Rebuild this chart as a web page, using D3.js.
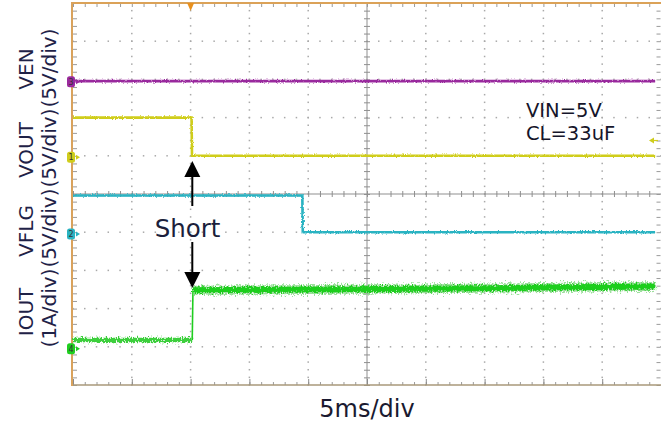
<!DOCTYPE html>
<html><head><meta charset="utf-8">
<script src="https://cdn.jsdelivr.net/npm/d3@7"></script>
<style>html,body{margin:0;padding:0;background:#fff;} svg{display:block;font-family:"DejaVu Sans",Verdana,sans-serif;}</style>
</head><body><svg id="c" width="661" height="422"></svg>
<script>
// ---------------- data ----------------
const timeDomainMs = [0, 50];          // 10 div x 5 ms/div
const divDomain = [0, 10];             // 10 vertical divisions
const minorTimeTicks = d3.range(0, 50.001, 1);     // 1/5 div
const majorTimeTicks = d3.range(0, 50.001, 5);
const minorDivTicks = d3.range(0, 10.001, 0.2);
const majorDivTicks = d3.range(0, 10.001, 1);

const channelNames  = ["VEN", "VOUT", "VFLG", "IOUT"];
const channelScales = ["(5V/div)", "(5V/div)", "(5V/div)", "(1A/div)"];
const channelUnitsPerDiv = [5, 5, 5, 1];
const channelGroundDiv   = [7.94, 5.96, 3.95, 0.95];
const channelMarkerIds   = ["3", "1", "2", "4"];

const venTimes   = [0, 49.5];
const venValues  = [0.08, 0.08];
const voutTimes  = [0, 10.08, 10.12, 49.5];
const voutValues = [5.2, 5.2, 0.2, 0.2];
const vflgTimes  = [0, 19.5, 19.54, 49.5];
const vflgValues = [5.05, 5.05, 0.25, 0.25];
const ioutTimes  = [0, 10.14, 10.2, 20, 30, 40, 49.5];
const ioutValues = [0.23, 0.23, 1.53, 1.55, 1.57, 1.6, 1.63];

const xLabel = "5ms/div";
const noteLines = ["VIN=5V", "CL=33uF"];
const shortLabel = "Short";
const triggerTimeMs = 10.0;
const triggerLevelDiv = 6.4;

// ---------------- layout ----------------
const svg = d3.select("#c");
const plot = {left: 73, right: 661, top: 3, bottom: 385};
const x = d3.scaleLinear().domain(timeDomainMs).range([plot.left, plot.right]);
const y = d3.scaleLinear().domain(divDomain).range([plot.bottom, plot.top]);
const colors = ["#9a2a9e", "#cfcd1c", "#2ab3c2", "#1fce1f"];
const gridGray = "#a9a9a9";

// filters for trace noise texture
const defs = svg.append("defs");
function jitter(id, scale, fx, fy) {
  const f = defs.append("filter").attr("id", id).attr("filterUnits", "userSpaceOnUse")
    .attr("x", 0).attr("y", 0).attr("width", 661).attr("height", 422);
  f.append("feTurbulence").attr("type", "fractalNoise").attr("baseFrequency", fx + " " + fy)
    .attr("numOctaves", 2).attr("seed", 4).attr("result", "n");
  f.append("feDisplacementMap").attr("in", "SourceGraphic").attr("in2", "n")
    .attr("scale", scale).attr("xChannelSelector", "R").attr("yChannelSelector", "G");
}
jitter("j1", 3, 0.9, 0.6);
jitter("j2", 7, 0.8, 0.5);
jitter("j3", 11, 0.7, 0.5);

// dotted grid
const gridG = svg.append("g");
const vLines = majorTimeTicks.filter(t => t > 0 && t < 50 && t !== 25);
const hLines = majorDivTicks.filter(d => d > 0 && d < 10 && d !== 5);
const vDots = [];
vLines.forEach(t => minorDivTicks.forEach(d => vDots.push([t, d])));
const hDots = [];
hLines.forEach(d => minorTimeTicks.forEach(t => hDots.push([t, d])));
gridG.selectAll("rect.d").data(vDots.concat(hDots)).join("rect")
  .attr("x", d => x(d[0]) - 0.75).attr("y", d => y(d[1]) - 0.75)
  .attr("width", 1.5).attr("height", 1.5).attr("fill", gridGray);

// axes helpers (tick marks only)
function ticks(axisFn, scale, values, size, tr, color, width) {
  const g = svg.append("g").attr("transform", tr)
    .call(axisFn(scale).tickValues(values).tickSize(size).tickSizeOuter(0).tickFormat(""));
  g.select(".domain").remove();
  g.selectAll(".tick line").attr("stroke", color).attr("stroke-width", width || 1);
  return g;
}
// center cross
svg.append("line").attr("x1", x(25)).attr("x2", x(25)).attr("y1", plot.top).attr("y2", plot.bottom)
  .attr("stroke", "#8f8f8f").attr("stroke-width", 1);
svg.append("line").attr("x1", plot.left).attr("x2", plot.right).attr("y1", y(5)).attr("y2", y(5))
  .attr("stroke", "#8f8f8f").attr("stroke-width", 1);
ticks(d3.axisLeft,  y, minorDivTicks, 3, `translate(${x(25)},0)`, "#8f8f8f");
ticks(d3.axisRight, y, minorDivTicks, 3, `translate(${x(25)},0)`, "#8f8f8f");
ticks(d3.axisTop,    x, minorTimeTicks, 3, `translate(0,${y(5)})`, "#8f8f8f");
ticks(d3.axisBottom, x, minorTimeTicks, 3, `translate(0,${y(5)})`, "#8f8f8f");
// border ticks
ticks(d3.axisBottom, x, minorTimeTicks, 4, `translate(0,${plot.top})`, "#9a9a9a");
ticks(d3.axisRight, y, minorDivTicks, 4, `translate(${plot.left},0)`, "#9a9a9a");
ticks(d3.axisTop, x, minorTimeTicks, 3, `translate(0,${plot.bottom})`, "#9a9a9a");
ticks(d3.axisTop, x, majorTimeTicks, 6, `translate(0,${plot.bottom})`, "#8a8a8a");
ticks(d3.axisLeft, y, minorDivTicks, 4, `translate(${plot.right - 0.5},0)`, "#9a9a9a");

// borders
svg.append("line").attr("x1", plot.left - 1).attr("x2", plot.right).attr("y1", plot.bottom).attr("y2", plot.bottom)
  .attr("stroke", "#a8987a").attr("stroke-width", 1.6);
svg.append("line").attr("x1", plot.left - 1).attr("x2", plot.right).attr("y1", plot.top).attr("y2", plot.top)
  .attr("stroke", "#dba258").attr("stroke-width", 2);
svg.append("line").attr("x1", plot.left - 1).attr("x2", plot.left - 1).attr("y1", plot.top - 1).attr("y2", plot.bottom + 1)
  .attr("stroke", "#d9a25c").attr("stroke-width", 2);

// trigger position marker
svg.append("path")
  .attr("d", d3.line()([[x(triggerTimeMs) - 3.5, plot.top], [x(triggerTimeMs) + 3.5, plot.top], [x(triggerTimeMs), plot.top + 8]]) + "Z")
  .attr("fill", "#e8901e");
// trigger level marker (right)
const tly = y(triggerLevelDiv);
svg.append("path").attr("d", d3.line()([[649, tly], [654, tly - 3], [654, tly + 3]]) + "Z").attr("fill", colors[1]);
svg.append("line").attr("x1", 652).attr("x2", 658).attr("y1", tly).attr("y2", tly).attr("stroke", colors[1]).attr("stroke-width", 1.2);

// traces
const series = [
  [venTimes, venValues], [voutTimes, voutValues], [vflgTimes, vflgValues], [ioutTimes, ioutValues]
];
function pts(i) {
  const [ts, vs] = series[i];
  return ts.map((t, k) => [x(t), y(channelGroundDiv[i] + vs[k] / channelUnitsPerDiv[i])]);
}
const line = d3.line();
const traceG = svg.append("g");
// VEN, VOUT, VFLG
[0, 1, 2].forEach(i => {
  traceG.append("path").attr("d", line(pts(i))).attr("fill", "none")
    .attr("stroke", colors[i]).attr("stroke-width", 2.6).attr("filter", "url(#j1)");
  traceG.append("path").attr("d", line(pts(i))).attr("fill", "none")
    .attr("stroke", colors[i]).attr("stroke-width", 1.2).attr("opacity", 0.8);
});
// IOUT: low part and high part with noise band
const ip = pts(3);
const lowPart = ip.slice(0, 2), edge = ip.slice(1, 3), highPart = ip.slice(2);
traceG.append("path").attr("d", line(lowPart)).attr("fill", "none")
  .attr("stroke", "#3ccf3c").attr("stroke-width", 4.5).attr("filter", "url(#j2)");
traceG.append("path").attr("d", line(edge)).attr("fill", "none")
  .attr("stroke", colors[3]).attr("stroke-width", 1.6);
traceG.append("path").attr("d", line(highPart)).attr("fill", "none")
  .attr("stroke", "#86d886").attr("stroke-width", 9).attr("opacity", 0.8).attr("filter", "url(#j3)");
traceG.append("path").attr("d", line(highPart)).attr("fill", "none")
  .attr("stroke", colors[3]).attr("stroke-width", 6).attr("filter", "url(#j2)");

// channel ground markers
const mk = svg.append("g");
channelGroundDiv.forEach((g, i) => {
  const cy = y(g);
  mk.append("rect").attr("x", 67).attr("y", cy - 5.5).attr("width", 8).attr("height", 11).attr("rx", 2.5)
    .attr("fill", colors[i]);
  mk.append("text").attr("x", 71).attr("y", cy + 3).attr("text-anchor", "middle")
    .attr("font-size", 8).attr("fill", "#333").text(channelMarkerIds[i]);
  mk.append("path").attr("d", d3.line()([[76, cy - 2.5], [80, cy], [76, cy + 2.5]]) + "Z").attr("fill", colors[i]);
});

// y labels (rotated)
const textColor = "#1f2247";
const nameCenters = [69, 150, 231, 312];
const scaleCenters = [68, 148, 228, 308];
channelNames.forEach((n, i) => {
  svg.append("text").attr("transform", `translate(33,${nameCenters[i]}) rotate(-90)`)
    .attr("text-anchor", "middle").attr("font-size", 20).attr("fill", textColor).text(n);
  svg.append("text").attr("transform", `translate(56,${scaleCenters[i]}) rotate(-90)`)
    .attr("text-anchor", "middle").attr("font-size", 19).attr("fill", textColor)
    .attr("textLength", 79).attr("lengthAdjust", "spacingAndGlyphs").text(channelScales[i]);
});

// x label
svg.append("text").attr("x", x(25)).attr("y", 417).attr("text-anchor", "middle")
  .attr("font-size", 24).attr("fill", "#1a1a30").text(xLabel);

// notes
noteLines.forEach((t, k) => {
  svg.append("text").attr("x", 526).attr("y", 117 + k * 23).attr("font-size", 19.5)
    .attr("fill", "#15152a").text(t);
});

// Short annotation with arrows
const ax = 192.3;
svg.append("text").attr("x", 187.5).attr("y", 237).attr("text-anchor", "middle")
  .attr("font-size", 24.5).attr("fill", "#1c1f3c").text(shortLabel);
svg.append("line").attr("x1", ax).attr("x2", ax).attr("y1", 174).attr("y2", 206).attr("stroke", "#000").attr("stroke-width", 2);
svg.append("path").attr("d", d3.line()([[ax, 161], [ax - 8, 177], [ax + 8, 177]]) + "Z").attr("fill", "#000");
svg.append("line").attr("x1", ax).attr("x2", ax).attr("y1", 242).attr("y2", 274).attr("stroke", "#000").attr("stroke-width", 2);
svg.append("path").attr("d", d3.line()([[ax, 288], [ax - 8, 272], [ax + 8, 272]]) + "Z").attr("fill", "#000");
</script>
</body></html>
